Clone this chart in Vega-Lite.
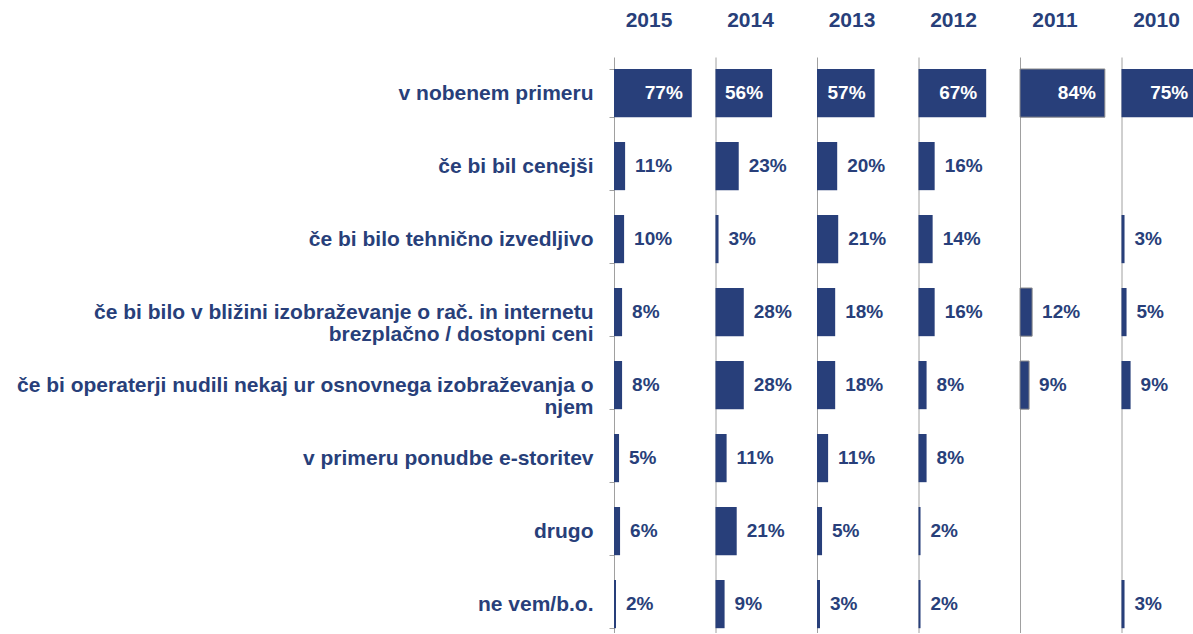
{
  "$schema": "https://vega.github.io/schema/vega-lite/v6.json",
  "background": "white",
  "padding": {"left": 4, "top": 10, "right": 0, "bottom": 0},
  "bounds": "flush",
  "config": {"view": {"stroke": null}, "font": "Liberation Sans"},
  "data": {"values": [
    {"year": "2015", "cat": "v nobenem  primeru", "value": 0.77},
    {"year": "2015", "cat": "če bi bil cenejši", "value": 0.11},
    {"year": "2015", "cat": "če bi bilo tehnično  izvedljivo", "value": 0.10},
    {"year": "2015", "cat": "če bi bilo v bližini izobraževanje  o rač. in internetu|brezplačno / dostopni  ceni", "value": 0.08},
    {"year": "2015", "cat": "če bi operaterji  nudili nekaj ur osnovnega  izobraževanja o|njem", "value": 0.08},
    {"year": "2015", "cat": "v primeru  ponudbe  e-storitev", "value": 0.05},
    {"year": "2015", "cat": "drugo", "value": 0.06},
    {"year": "2015", "cat": "ne vem/b.o.", "value": 0.02},
    {"year": "2014", "cat": "v nobenem  primeru", "value": 0.56},
    {"year": "2014", "cat": "če bi bil cenejši", "value": 0.23},
    {"year": "2014", "cat": "če bi bilo tehnično  izvedljivo", "value": 0.03},
    {"year": "2014", "cat": "če bi bilo v bližini izobraževanje  o rač. in internetu|brezplačno / dostopni  ceni", "value": 0.28},
    {"year": "2014", "cat": "če bi operaterji  nudili nekaj ur osnovnega  izobraževanja o|njem", "value": 0.28},
    {"year": "2014", "cat": "v primeru  ponudbe  e-storitev", "value": 0.11},
    {"year": "2014", "cat": "drugo", "value": 0.21},
    {"year": "2014", "cat": "ne vem/b.o.", "value": 0.09},
    {"year": "2013", "cat": "v nobenem  primeru", "value": 0.57},
    {"year": "2013", "cat": "če bi bil cenejši", "value": 0.20},
    {"year": "2013", "cat": "če bi bilo tehnično  izvedljivo", "value": 0.21},
    {"year": "2013", "cat": "če bi bilo v bližini izobraževanje  o rač. in internetu|brezplačno / dostopni  ceni", "value": 0.18},
    {"year": "2013", "cat": "če bi operaterji  nudili nekaj ur osnovnega  izobraževanja o|njem", "value": 0.18},
    {"year": "2013", "cat": "v primeru  ponudbe  e-storitev", "value": 0.11},
    {"year": "2013", "cat": "drugo", "value": 0.05},
    {"year": "2013", "cat": "ne vem/b.o.", "value": 0.03},
    {"year": "2012", "cat": "v nobenem  primeru", "value": 0.67},
    {"year": "2012", "cat": "če bi bil cenejši", "value": 0.16},
    {"year": "2012", "cat": "če bi bilo tehnično  izvedljivo", "value": 0.14},
    {"year": "2012", "cat": "če bi bilo v bližini izobraževanje  o rač. in internetu|brezplačno / dostopni  ceni", "value": 0.16},
    {"year": "2012", "cat": "če bi operaterji  nudili nekaj ur osnovnega  izobraževanja o|njem", "value": 0.08},
    {"year": "2012", "cat": "v primeru  ponudbe  e-storitev", "value": 0.08},
    {"year": "2012", "cat": "drugo", "value": 0.02},
    {"year": "2012", "cat": "ne vem/b.o.", "value": 0.02},
    {"year": "2011", "cat": "v nobenem  primeru", "value": 0.84},
    {"year": "2011", "cat": "če bi bilo v bližini izobraževanje  o rač. in internetu|brezplačno / dostopni  ceni", "value": 0.12},
    {"year": "2011", "cat": "če bi operaterji  nudili nekaj ur osnovnega  izobraževanja o|njem", "value": 0.09},
    {"year": "2010", "cat": "v nobenem  primeru", "value": 0.75},
    {"year": "2010", "cat": "če bi bilo tehnično  izvedljivo", "value": 0.03},
    {"year": "2010", "cat": "če bi bilo v bližini izobraževanje  o rač. in internetu|brezplačno / dostopni  ceni", "value": 0.05},
    {"year": "2010", "cat": "če bi operaterji  nudili nekaj ur osnovnega  izobraževanja o|njem", "value": 0.09},
    {"year": "2010", "cat": "ne vem/b.o.", "value": 0.03}
  ]},
  "facet": {
    "column": {
      "field": "year", "type": "nominal", "sort": "descending", "title": null,
      "header": {
        "labelFont": "Liberation Sans", "labelFontSize": 21, "labelFontWeight": "bold",
        "labelColor": "#283F7A", "labelPadding": 9, "labelBaseline": "alphabetic",
        "labelAnchor": "middle", "labelAlign": "center"
      }
    }
  },
  "spacing": 31.5,
  "spec": {
    "width": 70,
    "height": 576,
    "encoding": {
      "y": {
        "field": "cat", "type": "nominal",
        "sort": ["v nobenem  primeru", "če bi bil cenejši", "če bi bilo tehnično  izvedljivo", "če bi bilo v bližini izobraževanje  o rač. in internetu|brezplačno / dostopni  ceni", "če bi operaterji  nudili nekaj ur osnovnega  izobraževanja o|njem", "v primeru  ponudbe  e-storitev", "drugo", "ne vem/b.o."],
        "scale": {"paddingInner": 0.34, "paddingOuter": 0.115, "align": 0.714},
        "axis": {
          "title": null, "domain": false, "ticks": true, "tickBand": "extent",
          "tickColor": "#A0A0A0", "tickSize": 5,
          "labelFont": "Liberation Sans", "labelFontSize": 21, "labelFontWeight": "bold",
          "labelColor": "#283F7A", "labelPadding": 16, "labelLimit": 1000,
          "labelExpr": "indexof(datum.label, 'njem') >= 0 ? [split(datum.label, '|')[0], 'njem\u00a0\u00a0\u00a0\u00a0\u00a0\u00a0\u00a0\u00a0\u00a0\u00a0\u00a0\u00a0\u00a0\u00a0\u00a0\u00a0\u00a0\u00a0\u00a0\u00a0\u00a0\u00a0\u00a0\u00a0\u00a0\u00a0\u00a0\u00a0\u00a0\u00a0\u00a0\u00a0\u00a0\u00a0\u00a0\u00a0\u00a0\u00a0\u00a0\u00a0\u00a0\u00a0\u00a0\u00a0\u00a0'] : indexof(datum.label, '|') >= 0 ? [split(datum.label, '|')[0], split(datum.label, '|')[1] + '\u00a0\u00a0\u00a0\u00a0\u00a0\u00a0\u00a0\u00a0\u00a0\u00a0\u00a0\u00a0\u00a0\u00a0\u00a0\u00a0\u00a0\u00a0\u00a0\u00a0'] : datum.label",
          "labelLineHeight": 22
        }
      },
      "x": {
        "field": "value", "type": "quantitative",
        "scale": {"domain": [0, 0.693], "nice": false},
        "axis": {"title": null, "values": [0], "grid": true, "gridColor": "#A0A0A0", "gridWidth": 1, "labels": false, "ticks": false, "domain": false}
      }
    },
    "layer": [
      {
        "mark": {"type": "bar", "color": "#283F7A", "stroke": "#8C8C8C", "strokeWidth": 1},
        "encoding": {
          "strokeOpacity": {"condition": {"test": "datum.year === '2011'", "value": 1}, "value": 0}
        }
      },
      {
        "transform": [{"filter": "datum.value > 0.5"}],
        "mark": {"type": "text", "align": "right", "dx": -9, "baseline": "middle", "color": "white", "font": "Liberation Sans", "fontSize": 19, "fontWeight": "bold"},
        "encoding": {
          "text": {"field": "value", "type": "quantitative", "format": ".0%"}
        }
      },
      {
        "transform": [{"filter": "datum.value <= 0.5"}],
        "mark": {"type": "text", "align": "left", "dx": 10, "baseline": "middle", "color": "#283F7A", "font": "Liberation Sans", "fontSize": 19, "fontWeight": "bold"},
        "encoding": {
          "text": {"field": "value", "type": "quantitative", "format": ".0%"}
        }
      }
    ]
  }
}
